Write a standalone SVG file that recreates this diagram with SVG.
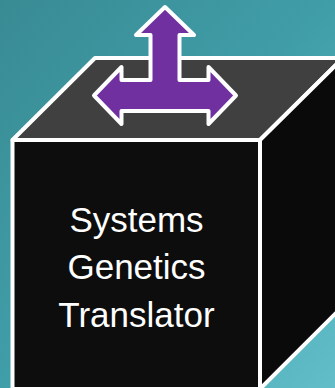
<svg xmlns="http://www.w3.org/2000/svg" width="335" height="388" viewBox="0 0 335 388">
  <defs>
    <linearGradient id="bg" x1="0" y1="0" x2="1" y2="1">
      <stop offset="0" stop-color="#398b93"/>
      <stop offset="0.5" stop-color="#409ea9"/>
      <stop offset="1" stop-color="#62bfca"/>
    </linearGradient>
  </defs>
  <style>
    .edge { stroke: #ffffff; stroke-width: 4; stroke-linejoin: round; }
    .label { font-family: "Liberation Sans", Arial, sans-serif; font-size: 35px; fill: #ffffff; text-anchor: middle; }
  </style>
  <rect x="0" y="0" width="335" height="388" fill="url(#bg)"/>
  <g id="box">
    <polygon id="top-face" class="edge" fill="#404040" points="12.5,140 95,58 343,58 260,140"/>
    <polygon id="side-face" class="edge" fill="#0a0a0a" points="260,140 343,58 343,306 260,389"/>
    <rect id="front-face" class="edge" fill="#0d0d0d" x="12.5" y="140" width="247.5" height="249"/>
    <g id="label-text">
      <text class="label" x="136.5" y="232">Systems</text>
      <text class="label" x="136.5" y="279">Genetics</text>
      <text class="label" x="136.5" y="327">Translator</text>
    </g>
  </g>
  <g id="arrow">
    <path class="edge" fill="#7030a0" d="M165,7 L194,35 L179.5,35 L179.5,80 L208.5,80 L208.5,67 L236,95.5 L208.5,124 L208.5,111 L121.5,111 L121.5,124 L94,95.5 L121.5,67 L121.5,80 L150.5,80 L150.5,35 L136,35 Z"/>
  </g>
</svg>
